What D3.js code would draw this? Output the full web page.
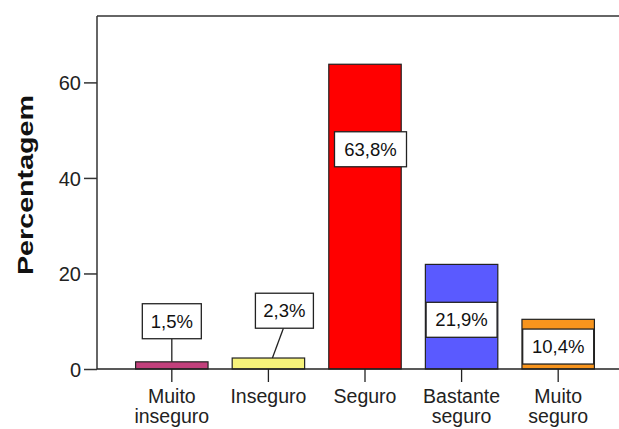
<!DOCTYPE html>
<html><head><meta charset="utf-8">
<script src="https://cdn.jsdelivr.net/npm/d3@7"></script>
<style>body{margin:0;background:#fff}svg{display:block}text{font-family:"Liberation Sans",Arial,sans-serif}</style>
</head><body>
<svg id="c" width="619" height="429"></svg>
<script>
const categories = [["Muito","inseguro"],["Inseguro"],["Seguro"],["Bastante","seguro"],["Muito","seguro"]];
const values = [1.5, 2.3, 63.8, 21.9, 10.4];
const labels = ["1,5%","2,3%","63,8%","21,9%","10,4%"];
const colors = ["#c2407c","#f6f27a","#ff0000","#5a5aff","#f7941d"];
const yTicks = [0,20,40,60];

const svg = d3.select("#c");
const x = d3.scaleBand().domain(d3.range(values.length)).range([124,606]).paddingInner(0.25).paddingOuter(0.12);
const y = d3.scaleLinear().domain([0,73.9]).range([369,16]);

// frame
svg.append("line").attr("x1",97).attr("x2",619).attr("y1",16).attr("y2",16).attr("stroke","#333").attr("stroke-width",1.5);
svg.append("line").attr("x1",97).attr("x2",97).attr("y1",16).attr("y2",369).attr("stroke","#333").attr("stroke-width",1.5);

// bars
svg.selectAll("rect.bar").data(values).enter().append("rect")
  .attr("x",(d,i)=>x(i)).attr("width",x.bandwidth())
  .attr("y",d=>y(d)).attr("height",d=>y(0)-y(d))
  .attr("fill",(d,i)=>colors[i]).attr("stroke","#222").attr("stroke-width",1.2);

// y axis
const ya = svg.append("g").attr("transform","translate(97,0)")
  .call(d3.axisLeft(y).tickValues(yTicks).tickSize(13).tickPadding(3).tickFormat(d3.format("d")));
ya.select(".domain").remove();
ya.selectAll("line").attr("stroke","#333").attr("stroke-width",1.5);
ya.selectAll("text").attr("font-size",20).attr("fill","#222").attr("dy","0.36em");

// x axis
const xa = svg.append("g").attr("transform","translate(0,369)")
  .call(d3.axisBottom(x).tickSize(13).tickFormat(""));
xa.select(".domain").remove();
xa.selectAll("line").attr("stroke","#222").attr("stroke-width",1.3);
svg.append("line").attr("x1",97).attr("x2",619).attr("y1",369).attr("y2",369).attr("stroke","#222").attr("stroke-width",1.5);
svg.selectAll("text.cat").data(categories).enter().append("text")
  .attr("class","cat").attr("x",(d,i)=>x(i)+x.bandwidth()/2).attr("y",403)
  .attr("text-anchor","middle").attr("font-size",19.5).attr("fill","#222")
  .each(function(d){
    const t=d3.select(this);
    d.forEach((s,k)=>t.append("tspan").attr("x",t.attr("x")).attr("dy",k?20:0).text(s));
  });

// y title
svg.append("text").attr("transform","translate(33,185) rotate(-90)").attr("text-anchor","middle")
  .attr("font-size",22).attr("font-weight","bold").attr("fill","#111")
  .attr("textLength",180).attr("lengthAdjust","spacingAndGlyphs").text("Percentagem");

// value labels
const boxW = [59,58,72,71,71];
const boxCY = [10.0, 12.2, 46.0, 10.3, 4.7]; // box centre in data units
const boxDX = [0, 16, 5.5, 0, 0];
values.forEach((v,i)=>{
  const bc = x(i)+x.bandwidth()/2;
  const cx = bc + boxDX[i];
  const cy = y(boxCY[i]);
  const h = 35;
  if(i<2){
    svg.append("line").attr("x1", i===1?cx-1:cx).attr("y1",cy+h/2).attr("x2", i===1?bc+4:bc).attr("y2",y(v))
      .attr("stroke","#222").attr("stroke-width",1.3);
  }
  svg.append("rect").attr("x",cx-boxW[i]/2).attr("y",cy-h/2).attr("width",boxW[i]).attr("height",h)
    .attr("fill","#fff").attr("stroke","#222").attr("stroke-width",1.3);
  svg.append("text").attr("x",cx).attr("y",cy).attr("dy","0.36em").attr("text-anchor","middle")
    .attr("font-size",18.5).attr("fill","#111").text(labels[i]);
});
</script>
</body></html>
